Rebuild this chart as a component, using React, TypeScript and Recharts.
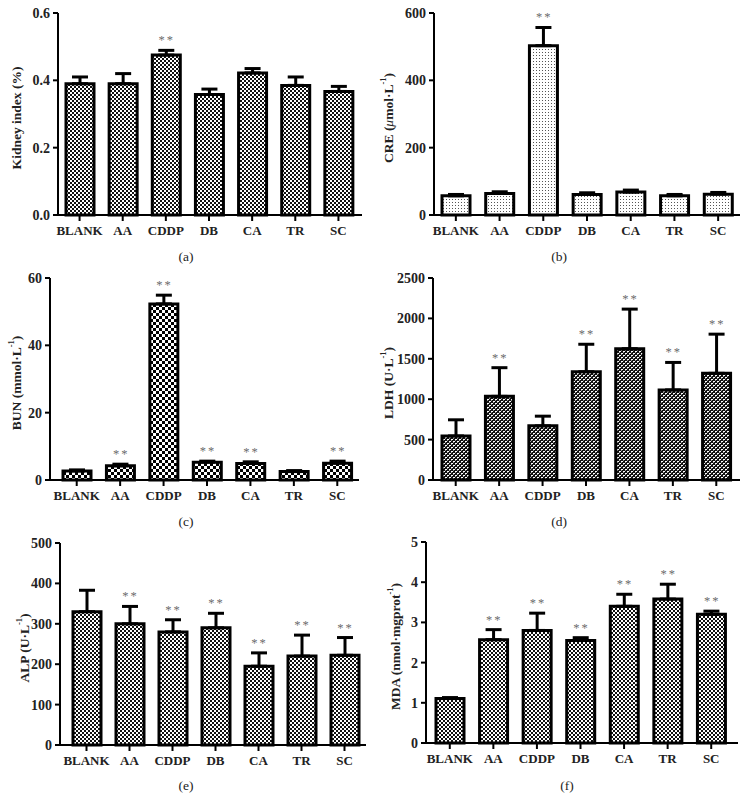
import React from 'react';
import { ComposedChart, Bar, ErrorBar, Line, XAxis, YAxis } from 'recharts';

const groups = ['BLANK', 'AA', 'CDDP', 'DB', 'CA', 'TR', 'SC'];

// (a) kidney index, %
const kidneyIndex = [0.39, 0.39, 0.475, 0.358, 0.422, 0.385, 0.367];
const kidneyIndexSd = [0.02, 0.03, 0.014, 0.016, 0.013, 0.025, 0.015];
const kidneyIndexSig = [false, false, true, false, false, false, false];

// (b) CRE, umol/L
const cre = [57, 64, 503, 61, 68, 57, 62];
const creSd = [4, 5, 54, 5, 6, 4, 5];
const creSig = [false, false, true, false, false, false, false];

// (c) BUN, mmol/L
const bun = [2.7, 4.2, 52.3, 5.3, 4.9, 2.5, 5.0];
const bunSd = [0.3, 0.5, 2.6, 0.3, 0.5, 0.3, 0.6];
const bunSig = [false, true, true, true, true, false, true];

// (d) LDH, U/L
const ldh = [545, 1035, 670, 1340, 1625, 1115, 1320];
const ldhSd = [200, 355, 120, 340, 490, 340, 485];
const ldhSig = [false, true, false, true, true, true, true];

// (e) ALP, U/L
const alp = [330, 300, 280, 290, 195, 220, 222];
const alpSd = [53, 43, 30, 36, 33, 52, 44];
const alpSig = [false, true, true, true, true, true, true];

// (f) MDA, nmol/mgprot
const mda = [1.11, 2.57, 2.8, 2.55, 3.4, 3.58, 3.2];
const mdaSd = [0.02, 0.25, 0.43, 0.07, 0.3, 0.37, 0.08];
const mdaSig = [false, true, true, true, true, true, true];

const FONT = '"Liberation Serif", "DejaVu Serif", serif';

const rows = (v: number[], e: number[], s: boolean[]) =>
  groups.map((name, i) => ({ name, v: v[i], e: e[i], s: s[i] }));

const sup = (t: string) => [
  <tspan key="s" dy={-5} fontSize={8.5}>{t}</tspan>,
  <tspan key="r" dy={5}>)</tspan>,
];

const patterns: Record<string, JSX.Element> = {
  fine: (
    <>
      <rect width={4} height={4} fill="#fff" />
      <rect x={0} y={0} width={2} height={2} fill="#111" />
      <rect x={2} y={2} width={2} height={2} fill="#111" />
    </>
  ),
  dots: (
    <>
      <rect width={3} height={3} fill="#fff" />
      <rect x={1} y={1} width={1} height={1} fill="#555" />
    </>
  ),
  coarse: (
    <>
      <rect width={6} height={6} fill="#fff" />
      <rect x={0} y={0} width={3} height={3} fill="#000" />
      <rect x={3} y={3} width={3} height={3} fill="#000" />
    </>
  ),
  brick: (
    <>
      <rect width={4} height={4} fill="#111" />
      <rect x={0} y={0} width={2} height={1} fill="#fff" />
      <rect x={2} y={2} width={2} height={1} fill="#fff" />
      <rect x={0} y={1} width={1} height={1} fill="#999" />
      <rect x={2} y={3} width={1} height={1} fill="#999" />
    </>
  ),
};
const patternSize: Record<string, number> = { fine: 4, dots: 3, coarse: 6, brick: 4 };

const panels = [
  {
    id: 'a', data: rows(kidneyIndex, kidneyIndexSd, kidneyIndexSig), pattern: 'fine',
    domain: [0, 0.6], ticks: [0, 0.2, 0.4, 0.6], fmt: (v: number) => v.toFixed(1),
    L: 0, T: 0, W: 373, H: 270, axisX: 58, top: 13, bottom: 215, right: 362, padL: 0, padR: 2,
    labX: 16, letter: [186, 257], ylabel: <>Kidney index (%)</>,
  },
  {
    id: 'b', data: rows(cre, creSd, creSig), pattern: 'dots',
    domain: [0, 600], ticks: [0, 200, 400, 600], fmt: (v: number) => String(v),
    L: 373, T: 0, W: 374, H: 270, axisX: 434, top: 13, bottom: 215, right: 740, padL: 0, padR: 0,
    labX: 388, letter: [559, 257],
    ylabel: <>CRE (<tspan fontStyle="italic" fontWeight="normal">μ</tspan>mol·L{sup('-1')}</>,
  },
  {
    id: 'c', data: rows(bun, bunSd, bunSig), pattern: 'coarse',
    domain: [0, 60], ticks: [0, 20, 40, 60], fmt: (v: number) => String(v),
    L: 0, T: 265, W: 373, H: 270, axisX: 50, top: 278, bottom: 480, right: 359, padL: 5, padR: 0,
    labX: 16, letter: [186, 522], ylabel: <>BUN (mmol·L{sup('-1')}</>,
  },
  {
    id: 'd', data: rows(ldh, ldhSd, ldhSig), pattern: 'brick',
    domain: [0, 2500], ticks: [0, 500, 1000, 1500, 2000, 2500], fmt: (v: number) => String(v),
    L: 373, T: 265, W: 374, H: 270, axisX: 433, top: 278, bottom: 480, right: 740, padL: 1, padR: 2,
    labX: 388, letter: [559, 522], ylabel: <>LDH (U·L{sup('-1')}</>,
  },
  {
    id: 'e', data: rows(alp, alpSd, alpSig), pattern: 'fine',
    domain: [0, 500], ticks: [0, 100, 200, 300, 400, 500], fmt: (v: number) => String(v),
    L: 0, T: 530, W: 373, H: 279, axisX: 60, top: 543, bottom: 745, right: 366, padL: 5, padR: 0,
    labX: 24, letter: [186, 786], ylabel: <>ALP (U·L{sup('-1')}</>,
  },
  {
    id: 'f', data: rows(mda, mdaSd, mdaSig), pattern: 'fine',
    domain: [0, 5], ticks: [0, 1, 2, 3, 4, 5], fmt: (v: number) => String(v),
    L: 373, T: 530, W: 374, H: 279, axisX: 426, top: 542, bottom: 743, right: 738, padL: 2, padR: 5,
    labX: 395, letter: [567, 786], ylabel: <>MDA (nmol·mgprot{sup('-1')}</>,
  },
];

function Panel({ p }: { p: (typeof panels)[number] }) {
  const pid = `pat-${p.id}`;
  const size = patternSize[p.pattern];
  const cy = p.top - p.T + (p.bottom - p.top) / 2 + 4;
  const cx = p.labX - p.L;

  const stars = (d: any) => {
    const { cx: x, cy: y, payload, index } = d;
    if (!payload || !payload.s) return <g key={`st-${index}`} />;
    return (
      <text key={`st-${index}`} x={x + 1} y={y - 6} textAnchor="middle" fontSize={12.5}
        fontFamily={FONT} fill="#6b6b6b" letterSpacing={2}>
        **
      </text>
    );
  };

  return (
    <div style={{ position: 'absolute', left: p.L, top: p.T }}>
      <ComposedChart
        width={p.W}
        height={p.H}
        data={p.data}
        margin={{ top: p.top - p.T, right: p.L + p.W - p.right, left: 0, bottom: 0 }}
      >
        <defs>
          <pattern id={pid} width={size} height={size} patternUnits="userSpaceOnUse">
            {patterns[p.pattern]}
          </pattern>
        </defs>
        <XAxis
          dataKey="name"
          interval={0}
          height={p.T + p.H - p.bottom}
          padding={{ left: p.padL, right: p.padR }}
          axisLine={{ stroke: '#000', strokeWidth: 2 }}
          tickLine={{ stroke: '#000', strokeWidth: 2 }}
          tickSize={6}
          tickMargin={5}
          tick={{ fill: '#222', fontSize: 13, fontWeight: 'bold', fontFamily: FONT }}
        />
        <YAxis
          type="number"
          domain={p.domain as [number, number]}
          ticks={p.ticks}
          tickFormatter={p.fmt}
          width={p.axisX - p.L}
          axisLine={{ stroke: '#000', strokeWidth: 2 }}
          tickLine={{ stroke: '#000', strokeWidth: 2 }}
          tickSize={5}
          tickMargin={3}
          tick={{ fill: '#222', fontSize: 14, fontWeight: 'bold', fontFamily: FONT }}
          label={() => (
            <text
              x={cx}
              y={cy}
              transform={`rotate(-90 ${cx} ${cy})`}
              textAnchor="middle"
              dominantBaseline="central"
              fontSize={13.5}
              fontWeight="bold"
              fontFamily={FONT}
              fill="#222"
            >
              {p.ylabel}
            </text>
          )}
        />
        <Bar
          dataKey="v"
          fill={`url(#${pid})`}
          stroke="#000"
          strokeWidth={3}
          barSize={28}
          isAnimationActive={false}
        >
          <ErrorBar
            dataKey={(d: any) => [0, d.e]}
            direction="y"
            width={8}
            stroke="#000"
            strokeWidth={3}
            isAnimationActive={false}
          />
        </Bar>
        <Line
          dataKey={(d: any) => d.v + d.e}
          stroke="none"
          dot={stars}
          activeDot={false}
          legendType="none"
          isAnimationActive={false}
        />
      </ComposedChart>
      <div
        style={{
          position: 'absolute',
          left: p.letter[0] - p.L - 20,
          top: p.letter[1] - p.T - 8,
          width: 40,
          textAlign: 'center',
          fontFamily: FONT,
          fontSize: 13.5,
          color: '#222',
        }}
      >
        ({p.id})
      </div>
    </div>
  );
}

export default function App() {
  return (
    <div style={{ position: 'absolute', left: 0, top: 0, width: 747, height: 809, background: '#fff' }}>
      {panels.map((p) => (
        <Panel key={p.id} p={p} />
      ))}
    </div>
  );
}
